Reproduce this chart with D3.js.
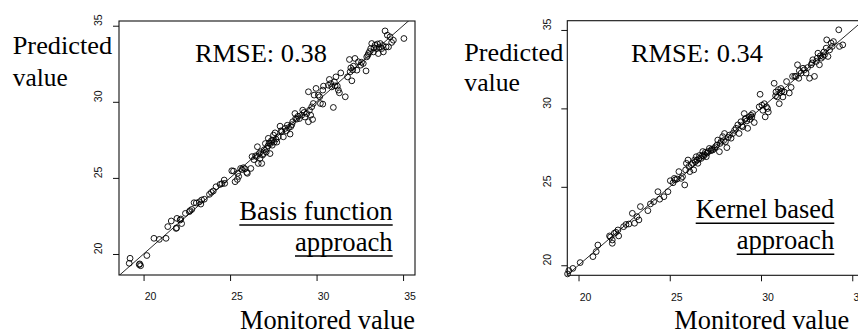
<!DOCTYPE html>
<html><head><meta charset="utf-8">
<script src="https://cdn.jsdelivr.net/npm/d3@7/dist/d3.min.js"></script>
<style>
html,body{margin:0;padding:0;background:#fff;}
svg{display:block;}
</style></head>
<body>
<svg id="chart" width="858" height="332"></svg>
<script>
// ---- data ----
const tickValues = [20, 25, 30, 35];
const yAxisLabel = ["Predicted", "value"];
const xAxisLabel = "Monitored value";
const panelTitles = ["RMSE: 0.38", "RMSE: 0.34"];
const methodLabels = [["Basis function", "approach"], ["Kernel based", "approach"]];

// [monitored, predicted]
const basisPoints = [[19.22,19.72],[19.17,19.39],[19.75,19.3],[19.83,19.23],[19.78,19.35],[20.19,19.9],[20.6,21.03],[20.91,20.96],[21.3,21.03],[21.4,21.8],[21.6,22.17],[21.88,21.68],[21.93,22.34],[21.91,21.72],[22.11,22.23],[22.2,22.0],[22.15,22.3],[22.42,22.67],[22.64,22.78],[22.69,22.85],[22.79,22.93],[22.92,23.37],[23.05,23.35],[23.23,23.43],[23.31,23.28],[23.36,23.55],[23.51,23.6],[23.81,23.92],[23.92,24.05],[24.03,24.14],[24.19,24.42],[24.42,24.57],[24.53,24.62],[24.66,24.86],[24.69,24.64],[25.1,25.47],[25.2,25.45],[25.29,24.75],[25.44,25.3],[25.42,24.9],[25.5,25.1],[25.61,25.62],[25.69,25.55],[25.77,25.67],[25.86,25.6],[25.96,25.36],[26.0,25.3],[26.2,25.62],[26.27,26.4],[26.38,26.2],[26.47,26.45],[26.53,26.4],[26.58,27.05],[26.63,25.95],[26.68,26.6],[26.73,26.28],[26.77,26.72],[26.83,25.95],[26.88,26.5],[26.93,26.6],[26.98,26.85],[27.04,27.26],[27.09,26.7],[27.12,26.94],[27.19,27.1],[27.21,27.6],[27.26,27.3],[27.31,26.6],[27.34,27.26],[27.39,27.45],[27.44,27.15],[27.46,27.48],[27.51,27.81],[27.55,27.35],[27.6,27.96],[27.65,27.55],[27.7,27.35],[27.79,27.7],[27.89,28.4],[27.96,28.1],[27.99,28.03],[28.08,27.7],[28.18,28.25],[28.26,28.1],[28.31,28.46],[28.38,28.3],[28.47,27.88],[28.51,28.37],[28.57,28.5],[28.62,28.69],[28.75,29.23],[28.79,28.9],[28.85,28.86],[28.93,29.05],[29.01,28.9],[29.14,29.12],[29.2,29.45],[29.28,29.3],[29.33,29.0],[29.44,29.23],[29.53,28.69],[29.59,29.45],[29.66,29.12],[29.72,29.67],[29.77,28.84],[29.81,29.89],[29.53,30.66],[29.86,30.44],[29.97,30.88],[30.1,30.44],[30.18,30.33],[30.22,29.89],[30.36,29.85],[30.4,31.03],[30.36,30.77],[30.68,31.09],[30.74,31.47],[30.82,31.2],[30.88,30.98],[30.97,29.63],[31.03,31.31],[31.07,31.05],[31.12,31.64],[31.2,31.03],[31.26,30.77],[31.32,30.59],[31.4,31.9],[31.66,30.33],[31.79,31.64],[32.04,31.38],[31.94,31.97],[31.98,32.23],[31.9,32.78],[32.09,32.1],[32.13,32.34],[32.22,32.85],[32.33,32.08],[32.42,32.63],[32.55,32.41],[32.6,32.6],[32.7,32.52],[32.86,32.03],[32.9,32.95],[32.96,33.05],[33.0,33.17],[33.06,33.3],[33.13,33.5],[33.19,33.83],[33.29,33.28],[33.32,33.55],[33.38,33.72],[33.47,33.5],[33.52,33.8],[33.57,33.17],[33.62,33.6],[33.68,33.83],[33.77,33.5],[33.83,33.7],[33.86,33.28],[33.96,34.66],[34.02,33.61],[34.09,34.38],[34.16,33.61],[34.25,34.27],[34.34,33.9],[34.44,34.05],[35.05,34.16]];

const kernelPoints = [[19.4,19.45],[19.47,19.66],[19.69,19.8],[20.09,20.17],[20.79,20.55],[20.97,20.87],[21.06,21.29],[21.7,21.87],[21.75,21.8],[21.85,21.61],[21.85,21.4],[21.96,22.04],[22.05,22.1],[22.16,22.25],[22.2,21.87],[22.47,22.46],[22.6,22.6],[22.76,22.63],[22.95,23.31],[23.07,22.68],[23.2,23.1],[23.31,22.89],[23.39,23.74],[23.8,23.48],[23.94,23.91],[24.12,24.05],[24.35,24.69],[24.45,24.21],[24.68,24.37],[24.9,24.69],[25.03,25.39],[25.18,25.26],[25.25,25.54],[25.3,25.45],[25.4,25.5],[25.5,25.97],[25.63,25.54],[25.7,25.65],[25.82,25.12],[25.91,26.5],[25.87,26.08],[26.0,26.71],[26.05,26.3],[26.1,25.97],[26.18,26.41],[26.25,26.5],[26.31,26.08],[26.36,26.71],[26.4,26.6],[26.45,26.92],[26.5,26.7],[26.54,26.5],[26.6,26.8],[26.63,27.0],[26.72,26.81],[26.78,27.0],[26.81,27.25],[26.85,26.95],[26.9,27.05],[26.95,27.2],[27.0,26.92],[27.05,27.15],[27.1,27.25],[27.17,27.45],[27.25,27.3],[27.3,27.4],[27.36,27.35],[27.45,27.45],[27.5,27.55],[27.58,27.66],[27.63,27.98],[27.72,27.24],[27.76,27.77],[27.82,27.9],[27.9,28.2],[27.95,27.95],[28.0,28.4],[28.05,27.87],[28.13,27.5],[28.2,28.15],[28.27,28.3],[28.36,28.1],[28.45,28.4],[28.55,28.6],[28.63,28.73],[28.73,28.95],[28.8,28.4],[28.9,29.15],[28.95,28.9],[29.0,28.82],[29.08,29.67],[29.12,29.3],[29.17,29.37],[29.22,29.2],[29.27,28.73],[29.36,29.46],[29.4,29.3],[29.45,29.56],[29.5,29.45],[29.54,29.67],[29.63,29.1],[29.9,30.1],[29.95,30.9],[30.05,30.2],[30.1,29.88],[30.18,30.3],[30.23,29.46],[30.3,30.1],[30.36,29.99],[30.4,29.77],[30.72,31.6],[30.8,30.8],[30.82,31.05],[30.9,30.73],[30.95,31.2],[31.0,30.3],[31.05,31.0],[31.09,31.27],[31.15,31.1],[31.2,30.73],[31.27,31.05],[31.4,31.71],[31.55,30.98],[31.65,31.34],[31.73,32.04],[31.85,32.04],[31.92,32.04],[32.0,32.78],[32.07,31.92],[32.1,32.4],[32.2,32.25],[32.3,32.56],[32.38,32.46],[32.47,32.25],[32.55,32.6],[32.66,31.92],[32.75,32.78],[32.8,32.9],[32.84,33.1],[32.93,32.04],[33.03,32.99],[33.08,33.2],[33.12,33.52],[33.2,32.78],[33.25,33.35],[33.3,33.2],[33.4,33.31],[33.45,33.6],[33.48,33.42],[33.57,33.84],[33.6,34.37],[33.67,33.31],[33.76,33.73],[33.84,34.16],[33.9,33.95],[33.97,34.26],[34.26,35.01],[34.3,33.95],[34.48,34.05]];

// ---- layout ----
const panels = [
  {points: basisPoints, xDom: [18.58, 35.69], yDom: [18.62, 35.31],
   box: {l: 119, r: 415, t: 21, b: 275},
   predX: 12.7, predY: [54.3, 86], predW: [99.6, 55], titleX: 195, titleY: 62, titleW: 132,
   methX: 392.7, methY: [220, 251], methW: [153.4, 97.7], monX: 415, monY: 328.5, monW: 175, yLabX: 98.5},
  {points: kernelPoints, xDom: [19.385, 35.6], yDom: [19.36, 35.59],
   box: {l: 567.3, r: 863.2, t: 20.7, b: 275.3},
   predX: 464.3, predY: [61, 91], predW: [99, 55.7], titleX: 631, titleY: 62, titleW: 132,
   methX: 834.3, methY: [218.3, 249.3], methW: [138.6, 97.6], monX: 849.3, monY: 328.5, monW: 175, yLabX: 547}
];
const labelShift = 6.5; // tick labels sit a little along their reading direction

const serif = "'Liberation Serif','DejaVu Serif','Times New Roman',Times,serif";
const sans = "'Liberation Sans',Arial,Helvetica,sans-serif";

const svg = d3.select("#chart");

panels.forEach((p, i) => {
  const x = d3.scaleLinear().domain(p.xDom).range([p.box.l, p.box.r]);
  const y = d3.scaleLinear().domain(p.yDom).range([p.box.b, p.box.t]);
  const g = svg.append("g");
  const clipId = "clip" + i;
  svg.append("clipPath").attr("id", clipId).append("rect")
    .attr("x", p.box.l).attr("y", p.box.t)
    .attr("width", p.box.r - p.box.l).attr("height", p.box.b - p.box.t);

  // 1:1 line
  const lo = Math.min(p.xDom[0], p.yDom[0]) - 1, hi = Math.max(p.xDom[1], p.yDom[1]) + 1;
  g.append("line").attr("clip-path", `url(#${clipId})`)
    .attr("x1", x(lo)).attr("y1", y(lo)).attr("x2", x(hi)).attr("y2", y(hi))
    .attr("stroke", "#111").attr("stroke-width", 0.9);

  // points
  g.append("g").selectAll("circle").data(p.points).join("circle")
    .attr("cx", d => x(d[0])).attr("cy", d => y(d[1])).attr("r", 2.9)
    .attr("fill", "none").attr("stroke", "#000").attr("stroke-width", 0.9);

  // box
  g.append("rect").attr("x", p.box.l).attr("y", p.box.t)
    .attr("width", p.box.r - p.box.l).attr("height", p.box.b - p.box.t)
    .attr("fill", "none").attr("stroke", "#111").attr("stroke-width", 1.1);

  // axes
  const xAxis = d3.axisBottom(x).tickValues(tickValues).tickSize(6).tickPadding(12).tickFormat(d3.format("d"));
  const xg = g.append("g").attr("transform", `translate(0,${p.box.b})`).call(xAxis);
  xg.select(".domain").remove();
  xg.selectAll("line").attr("stroke", "#111");
  xg.selectAll("text").attr("x", labelShift)
    .attr("font-family", sans).attr("font-size", 10.5).attr("fill", "#111");

  const yAxis = d3.axisLeft(y).tickValues(tickValues).tickSize(6).tickFormat(d3.format("d"));
  const yg = g.append("g").attr("transform", `translate(${p.box.l},0)`).call(yAxis);
  yg.select(".domain").remove();
  yg.selectAll("line").attr("stroke", "#111");
  yg.selectAll("text").remove();
  yg.selectAll(".tick").append("text")
    .attr("transform", `translate(${p.yLabX - p.box.l},${-labelShift + 0.5}) rotate(-90)`)
    .attr("text-anchor", "middle").attr("dy", "0.35em")
    .attr("font-family", sans).attr("font-size", 10.5).attr("fill", "#111")
    .text(d => d);

  // big labels, horizontally fitted to the reference widths
  const big = (txt, xx, yy, anchor, w, fs) => {
    const t = g.append("text").attr("x", 0).attr("y", 0)
      .attr("text-anchor", "start").attr("font-family", serif).attr("font-size", fs || 26)
      .attr("fill", "#000").text(txt);
    const w0 = t.node().getComputedTextLength() || w;
    const sx = w / w0;
    const left = anchor === "end" ? xx - w : xx;
    t.attr("transform", `translate(${left},${yy}) scale(${sx},1)`);
    return t;
  };
  big(yAxisLabel[0], p.predX, p.predY[0], "start", p.predW[0]);
  big(yAxisLabel[1], p.predX, p.predY[1], "start", p.predW[1]);
  big(panelTitles[i], p.titleX, p.titleY, "start", p.titleW);
  big(xAxisLabel, p.monX, p.monY, "end", p.monW, 27);
  methodLabels[i].forEach((t, k) => {
    big(t, p.methX, p.methY[k], "end", p.methW[k], 26.5);
    g.append("line").attr("x1", p.methX - p.methW[k]).attr("x2", p.methX)
      .attr("y1", p.methY[k] + 5).attr("y2", p.methY[k] + 5)
      .attr("stroke", "#000").attr("stroke-width", 1.6);
  });
});
</script>
</body></html>
